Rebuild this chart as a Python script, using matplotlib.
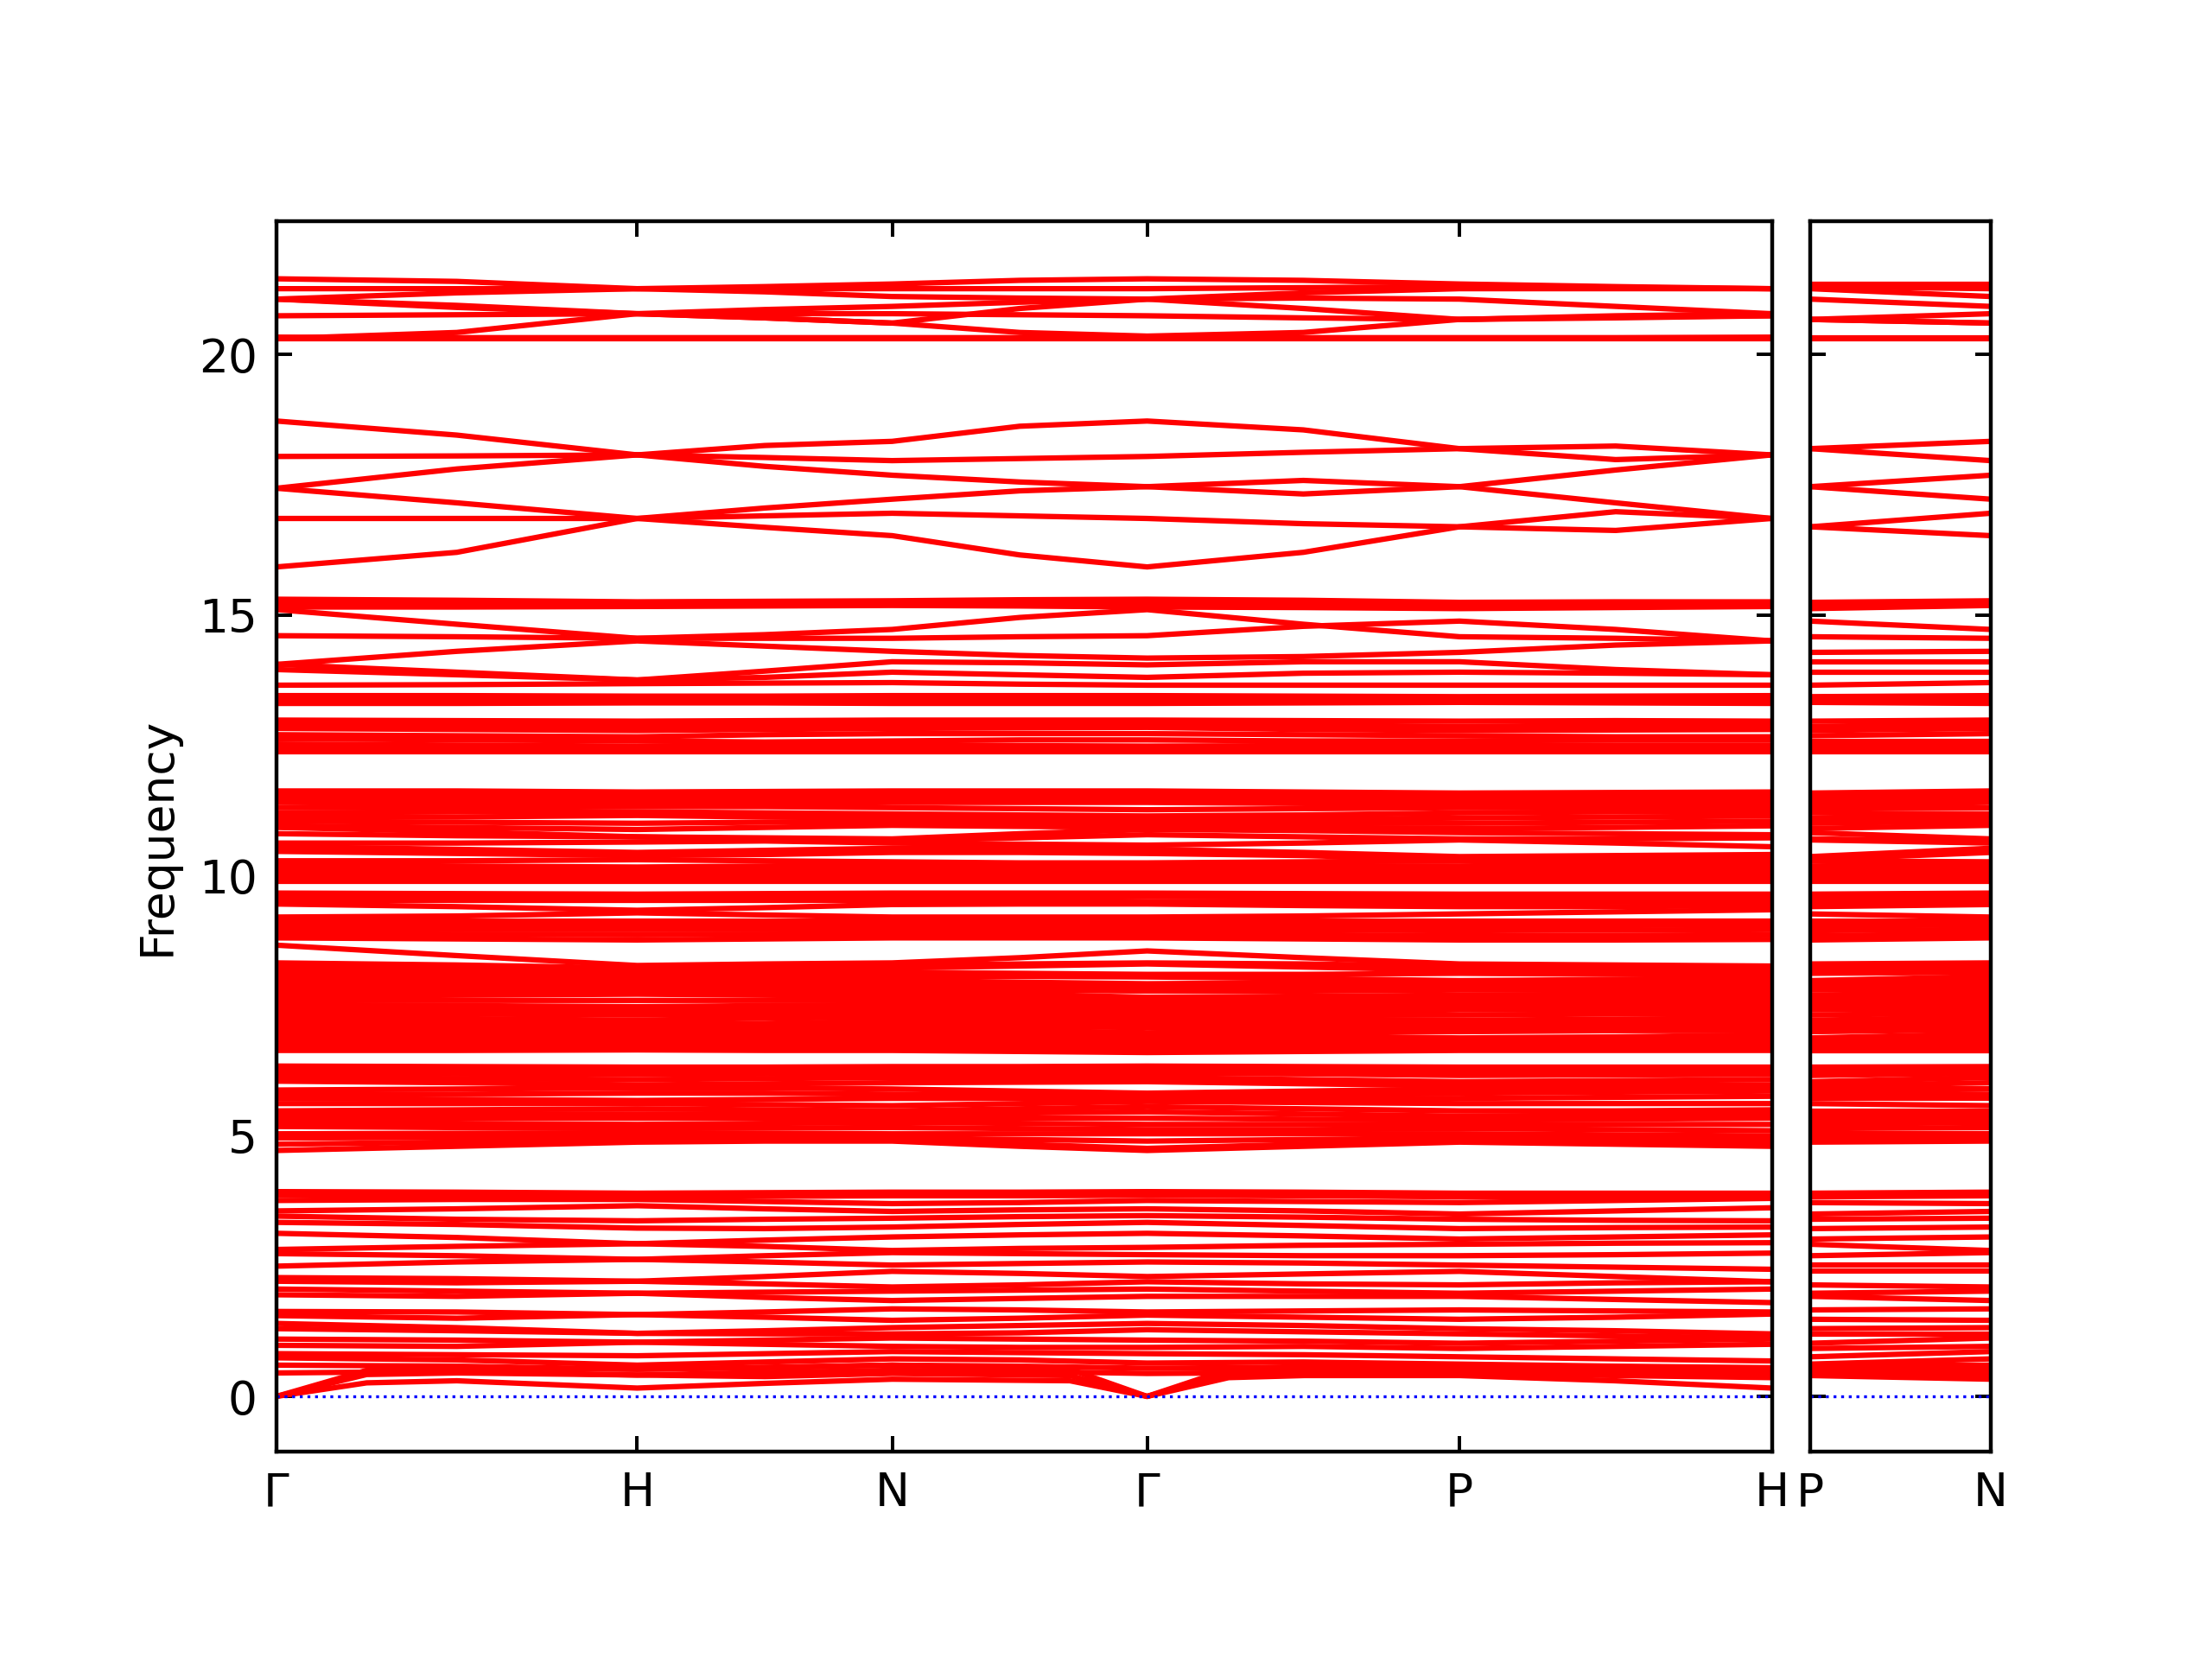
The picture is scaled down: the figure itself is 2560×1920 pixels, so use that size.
import numpy as np
import matplotlib.pyplot as plt

# BCC path: segment lengths in units of 2pi/a
SEGMENTS = [1.0, 0.7071, 0.7071, 0.8660, 0.8660]
PATH_LABELS = ['Γ', 'H', 'N', 'Γ', 'P', 'H']
SIDE_LABELS = ['P', 'N']

# Each band: frequency at Γ, mid, H, mid, N, mid, Γ, mid, P, mid, H
TOP_BANDS = [
    [21.45, 21.40, 21.26, 21.30, 21.35, 21.42, 21.45, 21.42, 21.35, 21.30, 21.26],
    [21.26, 21.26, 21.26, 21.26, 21.26, 21.26, 21.26, 21.28, 21.30, 21.28, 21.26],
    [21.06, 21.18, 21.26, 21.20, 21.11, 21.08, 21.06, 21.18, 21.26, 21.26, 21.26],
    [21.06, 20.94, 20.78, 20.86, 20.92, 21.00, 21.06, 21.08, 21.06, 20.92, 20.78],
    [21.06, 20.90, 20.78, 20.70, 20.60, 20.88, 21.06, 20.88, 20.67, 20.74, 20.78],
    [20.74, 20.76, 20.78, 20.78, 20.78, 20.76, 20.74, 20.70, 20.67, 20.70, 20.74],
    [20.30, 20.42, 20.78, 20.70, 20.60, 20.42, 20.35, 20.42, 20.67, 20.72, 20.74],
    [20.30, 20.30, 20.30, 20.30, 20.30, 20.30, 20.30, 20.30, 20.30, 20.30, 20.30],
    [20.33, 20.32, 20.32, 20.32, 20.32, 20.32, 20.33, 20.32, 20.32, 20.32, 20.33],
]

UPPER_BANDS = [
    [18.72, 18.45, 18.07, 18.25, 18.33, 18.62, 18.72, 18.55, 18.19, 18.24, 18.07],
    [18.04, 18.05, 18.07, 18.02, 17.96, 18.00, 18.04, 18.12, 18.19, 17.98, 18.07],
    [17.43, 17.80, 18.07, 17.85, 17.68, 17.55, 17.46, 17.58, 17.46, 17.78, 18.07],
    [17.43, 17.15, 16.85, 17.05, 17.22, 17.38, 17.46, 17.32, 17.46, 17.15, 16.85],
    [16.85, 16.85, 16.85, 16.90, 16.95, 16.90, 16.85, 16.75, 16.69, 16.98, 16.85],
    [15.92, 16.20, 16.85, 16.68, 16.52, 16.15, 15.92, 16.20, 16.69, 16.62, 16.85],
]

MID_BANDS = [
    [15.30, 15.28, 15.25, 15.26, 15.27, 15.29, 15.30, 15.28, 15.24, 15.25, 15.25],
    [15.22, 15.21, 15.20, 15.20, 15.21, 15.22, 15.22, 15.20, 15.18, 15.19, 15.20],
    [15.15, 15.15, 15.16, 15.17, 15.18, 15.17, 15.15, 15.14, 15.12, 15.14, 15.16],
    [15.10, 14.82, 14.55, 14.62, 14.72, 14.95, 15.10, 14.82, 14.58, 14.55, 14.50],
    [14.60, 14.58, 14.55, 14.55, 14.55, 14.58, 14.60, 14.78, 14.88, 14.72, 14.50],
    [14.05, 14.30, 14.50, 14.40, 14.30, 14.22, 14.17, 14.20, 14.28, 14.42, 14.50],
    [14.05, 13.90, 13.75, 13.92, 14.10, 14.08, 14.04, 14.10, 14.10, 13.95, 13.85],
    [13.95, 13.85, 13.75, 13.80, 13.90, 13.85, 13.80, 13.88, 13.90, 13.88, 13.85],
    [13.65, 13.66, 13.68, 13.69, 13.70, 13.67, 13.65, 13.65, 13.65, 13.65, 13.65],
    [13.45, 13.45, 13.44, 13.44, 13.45, 13.45, 13.45, 13.44, 13.43, 13.44, 13.45],
    [13.38, 13.38, 13.38, 13.37, 13.37, 13.38, 13.38, 13.37, 13.36, 13.37, 13.38],
    [13.30, 13.30, 13.31, 13.31, 13.30, 13.30, 13.30, 13.31, 13.32, 13.31, 13.30],
    [12.98, 12.97, 12.96, 12.97, 12.98, 12.98, 12.98, 12.97, 12.96, 12.97, 12.96],
    [12.90, 12.88, 12.87, 12.88, 12.90, 12.90, 12.90, 12.88, 12.86, 12.88, 12.88],
    [12.82, 12.80, 12.78, 12.80, 12.82, 12.83, 12.84, 12.80, 12.78, 12.79, 12.80],
    [12.70, 12.68, 12.66, 12.70, 12.72, 12.72, 12.72, 12.70, 12.68, 12.66, 12.66],
    [12.62, 12.60, 12.58, 12.56, 12.58, 12.60, 12.60, 12.58, 12.58, 12.60, 12.60],
    [12.52, 12.50, 12.48, 12.50, 12.50, 12.49, 12.48, 12.49, 12.50, 12.50, 12.50],
    [12.45, 12.44, 12.44, 12.44, 12.44, 12.44, 12.45, 12.44, 12.44, 12.44, 12.44],
    [12.38, 12.38, 12.38, 12.38, 12.38, 12.38, 12.38, 12.38, 12.38, 12.38, 12.38],
]

BAND_10 = [
    [11.62, 11.62, 11.60, 11.61, 11.62, 11.62, 11.62, 11.60, 11.58, 11.59, 11.60],
    [11.55, 11.54, 11.52, 11.53, 11.55, 11.56, 11.56, 11.54, 11.52, 11.52, 11.52],
    [11.47, 11.46, 11.45, 11.46, 11.48, 11.48, 11.48, 11.46, 11.44, 11.45, 11.45],
    [11.40, 11.38, 11.36, 11.37, 11.40, 11.40, 11.40, 11.38, 11.36, 11.37, 11.38],
    [11.30, 11.30, 11.32, 11.32, 11.30, 11.28, 11.26, 11.28, 11.30, 11.30, 11.30],
    [11.20, 11.22, 11.22, 11.20, 11.18, 11.16, 11.14, 11.16, 11.20, 11.22, 11.22],
    [11.12, 11.12, 11.15, 11.12, 11.10, 11.08, 11.08, 11.08, 11.10, 11.12, 11.14],
    [11.04, 11.02, 11.00, 11.02, 11.04, 11.02, 11.00, 11.00, 11.00, 11.02, 11.04],
    [10.95, 10.92, 10.88, 10.92, 10.96, 10.94, 10.92, 10.92, 10.90, 10.92, 10.95],
    [10.92, 10.84, 10.74, 10.72, 10.70, 10.80, 10.88, 10.86, 10.82, 10.80, 10.78],
    [10.80, 10.76, 10.74, 10.70, 10.66, 10.72, 10.78, 10.74, 10.70, 10.70, 10.72],
    [10.62, 10.62, 10.64, 10.66, 10.62, 10.60, 10.58, 10.62, 10.68, 10.62, 10.55],
    [10.55, 10.50, 10.44, 10.48, 10.52, 10.52, 10.50, 10.44, 10.36, 10.38, 10.40],
    [10.46, 10.42, 10.38, 10.40, 10.44, 10.44, 10.42, 10.38, 10.30, 10.32, 10.34],
    [10.28, 10.28, 10.30, 10.28, 10.26, 10.24, 10.24, 10.26, 10.28, 10.28, 10.26],
    [10.20, 10.18, 10.16, 10.18, 10.20, 10.20, 10.20, 10.18, 10.18, 10.20, 10.20],
    [10.12, 10.10, 10.08, 10.10, 10.12, 10.12, 10.12, 10.10, 10.10, 10.10, 10.10],
    [10.04, 10.02, 10.00, 10.02, 10.04, 10.04, 10.04, 10.04, 10.02, 10.02, 10.02],
    [9.96, 9.96, 9.96, 9.96, 9.96, 9.96, 9.96, 9.96, 9.96, 9.96, 9.96],
    [9.88, 9.88, 9.88, 9.88, 9.88, 9.88, 9.88, 9.88, 9.88, 9.88, 9.88],
]

BAND_9 = [
    [9.66, 9.65, 9.64, 9.65, 9.66, 9.66, 9.66, 9.65, 9.64, 9.64, 9.64],
    [9.60, 9.58, 9.56, 9.57, 9.58, 9.60, 9.60, 9.58, 9.56, 9.57, 9.58],
    [9.52, 9.52, 9.52, 9.52, 9.52, 9.51, 9.50, 9.50, 9.48, 9.49, 9.50],
    [9.45, 9.40, 9.33, 9.38, 9.44, 9.45, 9.45, 9.42, 9.40, 9.40, 9.42],
    [9.20, 9.22, 9.28, 9.24, 9.20, 9.20, 9.20, 9.22, 9.26, 9.30, 9.34],
    [9.12, 9.12, 9.12, 9.12, 9.12, 9.12, 9.12, 9.12, 9.12, 9.12, 9.12],
    [9.04, 9.04, 9.04, 9.04, 9.05, 9.04, 9.04, 9.04, 9.03, 9.04, 9.05],
    [8.96, 8.96, 8.96, 8.96, 8.96, 8.96, 8.96, 8.95, 8.94, 8.95, 8.96],
    [8.88, 8.87, 8.86, 8.87, 8.88, 8.88, 8.88, 8.86, 8.84, 8.85, 8.86],
    [8.80, 8.78, 8.76, 8.78, 8.80, 8.80, 8.80, 8.78, 8.76, 8.76, 8.77],
    [8.66, 8.46, 8.27, 8.30, 8.32, 8.42, 8.55, 8.42, 8.30, 8.28, 8.26],
]

BAND_7 = [
    [8.32, 8.28, 8.22, 8.24, 8.28, 8.30, 8.32, 8.30, 8.26, 8.24, 8.22],
    [8.24, 8.20, 8.14, 8.18, 8.22, 8.26, 8.30, 8.24, 8.18, 8.18, 8.16],
    [8.16, 8.12, 8.08, 8.10, 8.14, 8.12, 8.10, 8.10, 8.12, 8.10, 8.08],
    [8.08, 8.04, 8.00, 8.02, 8.06, 8.06, 8.05, 8.02, 7.98, 8.00, 8.02],
    [8.00, 7.96, 7.92, 7.95, 7.98, 7.95, 7.92, 7.94, 7.96, 7.94, 7.94],
    [7.92, 7.90, 7.88, 7.88, 7.90, 7.88, 7.86, 7.86, 7.88, 7.88, 7.88],
    [7.84, 7.84, 7.86, 7.84, 7.82, 7.80, 7.78, 7.78, 7.80, 7.80, 7.82],
    [7.76, 7.78, 7.80, 7.78, 7.76, 7.72, 7.66, 7.68, 7.70, 7.72, 7.74],
    [7.68, 7.70, 7.72, 7.70, 7.68, 7.64, 7.60, 7.62, 7.64, 7.66, 7.66],
    [7.60, 7.60, 7.60, 7.60, 7.60, 7.56, 7.52, 7.54, 7.58, 7.58, 7.58],
    [7.52, 7.50, 7.48, 7.50, 7.52, 7.48, 7.44, 7.46, 7.50, 7.50, 7.50],
    [7.44, 7.42, 7.40, 7.42, 7.44, 7.40, 7.36, 7.38, 7.42, 7.42, 7.42],
    [7.36, 7.34, 7.32, 7.34, 7.36, 7.34, 7.32, 7.32, 7.32, 7.34, 7.34],
    [7.28, 7.25, 7.22, 7.26, 7.28, 7.26, 7.24, 7.24, 7.22, 7.24, 7.26],
    [7.20, 7.17, 7.14, 7.16, 7.20, 7.18, 7.16, 7.16, 7.14, 7.16, 7.18],
    [7.12, 7.10, 7.06, 7.08, 7.12, 7.10, 7.08, 7.08, 7.08, 7.08, 7.10],
    [7.04, 7.02, 6.98, 7.02, 7.04, 7.02, 6.98, 7.00, 7.00, 7.02, 7.02],
    [6.96, 6.95, 6.94, 6.95, 6.96, 6.94, 6.92, 6.92, 6.88, 6.90, 6.94],
    [6.88, 6.88, 6.88, 6.88, 6.88, 6.86, 6.84, 6.84, 6.82, 6.84, 6.86],
    [6.80, 6.80, 6.80, 6.80, 6.80, 6.78, 6.76, 6.76, 6.76, 6.77, 6.78],
    [6.72, 6.72, 6.72, 6.72, 6.72, 6.70, 6.68, 6.68, 6.70, 6.70, 6.70],
    [6.64, 6.64, 6.65, 6.64, 6.64, 6.62, 6.60, 6.62, 6.64, 6.64, 6.64],
]

BAND_5 = [
    [6.34, 6.33, 6.32, 6.32, 6.33, 6.33, 6.34, 6.33, 6.32, 6.32, 6.32],
    [6.27, 6.26, 6.25, 6.26, 6.27, 6.27, 6.27, 6.26, 6.25, 6.25, 6.25],
    [6.20, 6.19, 6.18, 6.19, 6.20, 6.20, 6.20, 6.19, 6.16, 6.17, 6.18],
    [6.12, 6.10, 6.08, 6.10, 6.12, 6.12, 6.12, 6.08, 6.04, 6.06, 6.08],
    [6.05, 6.02, 5.98, 6.00, 6.02, 6.03, 6.04, 6.00, 5.96, 5.97, 5.98],
    [5.88, 5.90, 5.92, 5.92, 5.90, 5.86, 5.82, 5.86, 5.90, 5.92, 5.92],
    [5.80, 5.80, 5.82, 5.82, 5.80, 5.78, 5.76, 5.78, 5.82, 5.84, 5.86],
    [5.72, 5.70, 5.68, 5.70, 5.72, 5.72, 5.72, 5.72, 5.72, 5.74, 5.76],
    [5.62, 5.62, 5.62, 5.60, 5.58, 5.62, 5.66, 5.64, 5.62, 5.62, 5.62],
    [5.48, 5.50, 5.52, 5.50, 5.48, 5.52, 5.56, 5.52, 5.48, 5.48, 5.50],
    [5.42, 5.42, 5.42, 5.42, 5.42, 5.44, 5.46, 5.42, 5.38, 5.40, 5.42],
    [5.34, 5.34, 5.34, 5.34, 5.34, 5.34, 5.34, 5.32, 5.30, 5.32, 5.34],
    [5.26, 5.24, 5.22, 5.24, 5.26, 5.24, 5.22, 5.22, 5.22, 5.22, 5.22],
    [5.18, 5.16, 5.14, 5.15, 5.16, 5.14, 5.12, 5.12, 5.14, 5.12, 5.10],
    [5.04, 5.05, 5.06, 5.05, 5.04, 5.04, 5.04, 5.04, 5.04, 5.02, 5.00],
    [4.96, 4.97, 4.98, 4.97, 4.96, 4.93, 4.90, 4.93, 4.96, 4.96, 4.96],
    [4.84, 4.88, 4.92, 4.92, 4.92, 4.84, 4.76, 4.84, 4.92, 4.90, 4.88],
    [4.72, 4.80, 4.88, 4.90, 4.90, 4.80, 4.72, 4.80, 4.88, 4.84, 4.80],
]

LOW_BANDS = [
    [3.93, 3.92, 3.90, 3.91, 3.92, 3.92, 3.93, 3.92, 3.90, 3.90, 3.90],
    [3.86, 3.85, 3.84, 3.84, 3.85, 3.85, 3.86, 3.85, 3.83, 3.83, 3.84],
    [3.76, 3.78, 3.78, 3.74, 3.70, 3.72, 3.76, 3.74, 3.72, 3.76, 3.80],
    [3.56, 3.60, 3.66, 3.60, 3.55, 3.58, 3.60, 3.56, 3.50, 3.56, 3.62],
    [3.46, 3.40, 3.37, 3.40, 3.42, 3.45, 3.47, 3.44, 3.40, 3.38, 3.37],
    [3.34, 3.30, 3.23, 3.22, 3.25, 3.30, 3.34, 3.28, 3.22, 3.24, 3.25],
    [3.13, 3.05, 2.93, 3.00, 3.06, 3.10, 3.13, 3.08, 3.02, 3.06, 3.10],
    [2.82, 2.88, 2.93, 2.88, 2.80, 2.84, 2.86, 2.90, 2.92, 2.94, 2.95],
    [2.74, 2.70, 2.63, 2.70, 2.76, 2.74, 2.72, 2.70, 2.70, 2.72, 2.75],
    [2.50, 2.58, 2.63, 2.58, 2.52, 2.55, 2.58, 2.56, 2.52, 2.48, 2.44],
    [2.28, 2.26, 2.21, 2.30, 2.40, 2.36, 2.30, 2.35, 2.40, 2.30, 2.20],
    [2.21, 2.18, 2.21, 2.16, 2.10, 2.14, 2.20, 2.16, 2.14, 2.18, 2.20],
    [2.06, 2.02, 1.98, 2.00, 2.02, 2.04, 2.06, 2.02, 1.98, 2.02, 2.06],
    [1.95, 1.92, 1.98, 1.90, 1.84, 1.88, 1.92, 1.92, 1.92, 1.86, 1.80],
    [1.63, 1.62, 1.57, 1.62, 1.68, 1.66, 1.62, 1.64, 1.66, 1.64, 1.62],
    [1.55, 1.50, 1.57, 1.52, 1.46, 1.50, 1.56, 1.52, 1.48, 1.52, 1.58],
    [1.40, 1.32, 1.21, 1.26, 1.32, 1.36, 1.40, 1.36, 1.30, 1.26, 1.20],
    [1.30, 1.26, 1.21, 1.20, 1.20, 1.22, 1.28, 1.24, 1.20, 1.16, 1.12],
    [1.10, 1.08, 1.04, 1.08, 1.12, 1.10, 1.08, 1.06, 1.02, 1.06, 1.10],
    [0.98, 0.96, 1.04, 1.00, 0.96, 0.94, 0.94, 0.96, 0.92, 0.96, 1.00],
    [0.82, 0.80, 0.78, 0.82, 0.86, 0.84, 0.82, 0.80, 0.76, 0.72, 0.68],
    [0.74, 0.70, 0.60, 0.66, 0.72, 0.70, 0.64, 0.66, 0.62, 0.58, 0.55],
    [0.60, 0.58, 0.52, 0.56, 0.60, 0.58, 0.54, 0.56, 0.54, 0.50, 0.45],
    [0.45, 0.48, 0.41, 0.46, 0.50, 0.48, 0.44, 0.46, 0.44, 0.40, 0.36],
]

# acoustic branches, sampled more finely near Γ (k along the path)
ACOUSTIC_K = [0.0, 0.25, 0.5, 1.0, 1.354, 1.707, 2.20, 2.414, 2.64, 2.85, 3.280, 3.71, 4.146]
ACOUSTIC_BANDS = [
    [0.00, 0.26, 0.30, 0.16, 0.25, 0.33, 0.30, 0.00, 0.36, 0.40, 0.40, 0.30, 0.16],
    [0.00, 0.42, 0.45, 0.41, 0.38, 0.44, 0.40, 0.00, 0.44, 0.48, 0.50, 0.42, 0.41],
    [0.00, 0.50, 0.55, 0.52, 0.55, 0.60, 0.52, 0.00, 0.52, 0.58, 0.60, 0.55, 0.52],
]

bands = np.array(TOP_BANDS + UPPER_BANDS + MID_BANDS + BAND_10 + BAND_9
                 + BAND_7 + BAND_5 + LOW_BANDS)
acoustic = np.array(ACOUSTIC_BANDS)

# x positions of high-symmetry points and segment midpoints
nodes = np.concatenate([[0.0], np.cumsum(SEGMENTS)])
x = []
for i in range(len(SEGMENTS)):
    x += [nodes[i], 0.5 * (nodes[i] + nodes[i + 1])]
x.append(nodes[-1])
x = np.array(x)

LW = 1.4
plt.rcParams['font.size'] = 12
fig = plt.figure(figsize=(8, 6), dpi=320)
ax1 = fig.add_axes([0.125, 0.125, 0.676, 0.7415])
ax2 = fig.add_axes([0.8184, 0.125, 0.0816, 0.7415], sharey=ax1)

for band in bands:
    ax1.plot(x, band, color='red', lw=LW)
for band in acoustic:
    ax1.plot(ACOUSTIC_K, band, color='red', lw=LW)
ax1.axhline(0, color='blue', ls=':', lw=0.75)

# side panel P -> N, bands connected by order
ip, i_n = ACOUSTIC_K.index(3.280), ACOUSTIC_K.index(1.707)
p_vals = np.sort(np.concatenate([bands[:, 8], acoustic[:, ip]]))
n_vals = np.sort(np.concatenate([bands[:, 4], acoustic[:, i_n]]))
for p, n in zip(p_vals, n_vals):
    ax2.plot([0, 1], [p, n], color='red', lw=LW)
ax2.axhline(0, color='blue', ls=':', lw=0.75)

ax1.set_xlim(nodes[0], nodes[-1])
ax1.set_xticks(nodes)
ax1.set_xticklabels(PATH_LABELS)
ax2.set_xlim(0, 1)
ax2.set_xticks([0, 1])
ax2.set_xticklabels(SIDE_LABELS)

ax1.set_ylim(-1.06, 22.55)
ax1.set_yticks([0, 5, 10, 15, 20])
ax1.set_ylabel('Frequency', labelpad=5)

for ax in (ax1, ax2):
    ax.tick_params(direction='in', top=True, right=True, length=4, width=0.9)
    ax.tick_params(axis='x', pad=5)
    ax.tick_params(axis='y', pad=5)
    for s in ax.spines.values():
        s.set_linewidth(1.0)
ax2.tick_params(labelleft=False)

fig.savefig('out.png', dpi=320)
